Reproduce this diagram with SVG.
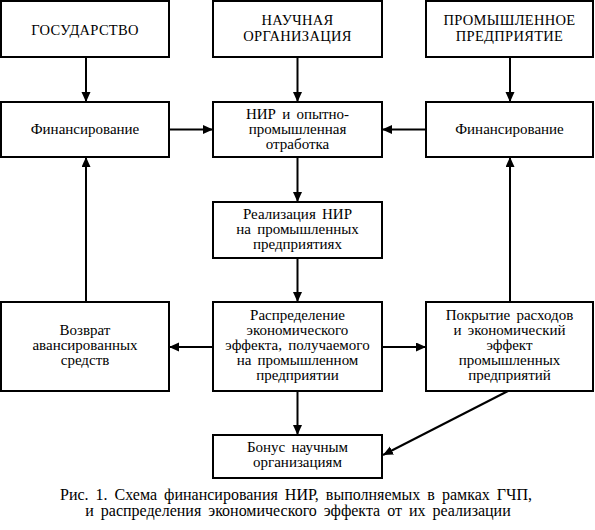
<svg xmlns="http://www.w3.org/2000/svg" width="595" height="530" viewBox="0 0 595 530" font-family="'Liberation Serif', 'DejaVu Serif', serif" font-size="15">
<defs>
<marker id="ah" markerUnits="userSpaceOnUse" markerWidth="12" markerHeight="10" refX="10" refY="4.5" orient="auto">
<path d="M0,0 L10,4.5 L0,9 Z" fill="#000"/>
</marker>
<style>
rect{fill:#fff;stroke:#000;stroke-width:2}
text{fill:#000;text-anchor:middle;word-spacing:2.5px}
.cap{font-size:14.5px;letter-spacing:0.3px;word-spacing:0}
.capt{font-size:16px;word-spacing:3px}
#connectors line{stroke:#000;stroke-width:2;fill:none;marker-end:url(#ah)}
</style>
</defs>
<rect x="0" y="0" width="595" height="530" style="stroke:none"/>
<g id="connectors">
<line x1="86" y1="57" x2="86" y2="102"/>
<line x1="297.5" y1="57" x2="297.5" y2="102"/>
<line x1="510" y1="57" x2="510" y2="102"/>
<line x1="169" y1="129.5" x2="213" y2="129.5"/>
<line x1="426" y1="129.5" x2="382" y2="129.5"/>
<line x1="297.5" y1="157" x2="297.5" y2="202"/>
<line x1="297.5" y1="258" x2="297.5" y2="302"/>
<line x1="213" y1="347" x2="169" y2="347"/>
<line x1="382" y1="347" x2="426" y2="347"/>
<line x1="86" y1="302" x2="86" y2="157"/>
<line x1="510" y1="302" x2="510" y2="157"/>
<line x1="297.5" y1="391" x2="297.5" y2="435"/>
<line x1="508" y1="391" x2="383" y2="455"/>
</g>
<g id="gos"><rect x="1" y="1" width="168" height="56"/><text class="cap" x="85" y="34.5">ГОСУДАРСТВО</text></g>
<g id="nauch"><rect x="213" y="1" width="169" height="56"/><text class="cap" x="297.5" y="25">НАУЧНАЯ</text><text class="cap" x="297.5" y="40.5">ОРГАНИЗАЦИЯ</text></g>
<g id="prom"><rect x="426" y="1" width="167" height="56"/><text class="cap" x="509.5" y="25">ПРОМЫШЛЕННОЕ</text><text class="cap" x="509.5" y="40.5">ПРЕДПРИЯТИЕ</text></g>
<g id="fin1"><rect x="1" y="102" width="168" height="55"/><text x="85" y="134">Финансирование</text></g>
<g id="nir"><rect x="213" y="102" width="169" height="55"/><text x="297.5" y="119">НИР и опытно-</text><text x="297.5" y="134">промышленная</text><text x="297.5" y="149">отработка</text></g>
<g id="fin2"><rect x="426" y="102" width="167" height="55"/><text x="509.5" y="134">Финансирование</text></g>
<g id="real"><rect x="213" y="202" width="169" height="56"/><text x="297.5" y="219">Реализация НИР</text><text x="297.5" y="234">на промышленных</text><text x="297.5" y="249">предприятиях</text></g>
<g id="vozv"><rect x="1" y="302" width="168" height="89"/><text x="85" y="335">Возврат</text><text x="85" y="350">авансированных</text><text x="85" y="365">средств</text></g>
<g id="raspr"><rect x="213" y="302" width="169" height="89"/><text x="297.5" y="320">Распределение</text><text x="297.5" y="335">экономического</text><text x="297.5" y="350">эффекта, получаемого</text><text x="297.5" y="365">на промышленном</text><text x="297.5" y="380">предприятии</text></g>
<g id="pokr"><rect x="426" y="302" width="167" height="89"/><text x="509.5" y="320">Покрытие расходов</text><text x="509.5" y="335">и экономический</text><text x="509.5" y="350">эффект</text><text x="509.5" y="365">промышленных</text><text x="509.5" y="380">предприятий</text></g>
<g id="bonus"><rect x="213" y="435" width="169" height="43"/><text x="297.5" y="452">Бонус научным</text><text x="297.5" y="467">организациям</text></g>
<g id="caption"><text class="capt" x="296" y="500">Рис. 1. Схема финансирования НИР, выполняемых в рамках ГЧП,</text><text class="capt" x="298" y="516">и распределения экономического эффекта от их реализации</text></g>
</svg>
